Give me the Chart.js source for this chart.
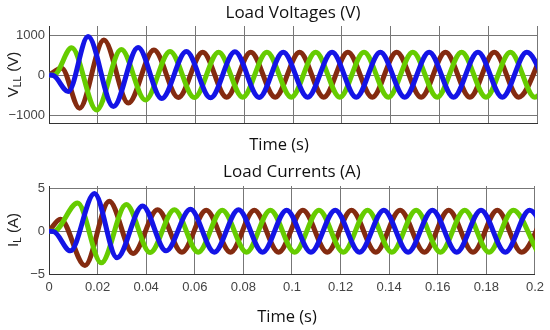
<!DOCTYPE html>
<html>
<head>
<meta charset="utf-8">
<script src="https://cdn.jsdelivr.net/npm/chart.js@4.4.1/dist/chart.umd.min.js"></script>
<style>
  body { margin: 0; background: #fff; }
  #wrap { position: relative; width: 550px; height: 330px; }
  .box { position: absolute; left: 0; width: 550px; }
</style>
</head>
<body>
<div id="wrap">
  <div class="box" style="top:0;height:160px"><canvas id="vChart"></canvas></div>
  <div class="box" style="top:160px;height:170px"><canvas id="iChart"></canvas></div>
</div>
<script>
// tick labels
const xTicks = [0, 0.02, 0.04, 0.06, 0.08, 0.1, 0.12, 0.14, 0.16, 0.18, 0.2];
const vTicks = [-1000, 0, 1000];
const iTicks = [-5, 0, 5];

// load voltages: peaks / troughs (time s, value V)
const vRedT = [0, 0.0052, 0.0125, 0.0225, 0.0325, 0.0430, 0.0530, 0.0630, 0.0728, 0.0827, 0.0927, 0.1027, 0.1126, 0.1225, 0.1325, 0.1425, 0.1525, 0.1625, 0.1725, 0.1825, 0.1925, 0.2025];
const vRedV = [0, 170, -830, 875, -700, 625, -560, 570, -555, 570, -555, 570, -555, 570, -555, 570, -555, 570, -555, 570, -555, 570];
const vGreenT = [0, 0.002, 0.0093, 0.0195, 0.0296, 0.0395, 0.0496, 0.0596, 0.0695, 0.0794, 0.0893, 0.0993, 0.1093, 0.1192, 0.1291, 0.1391, 0.1491, 0.1591, 0.1691, 0.1791, 0.1891, 0.1991, 0.2091];
const vGreenV = [0, 0, 680, -875, 640, -625, 590, -565, 570, -555, 570, -555, 570, -555, 570, -555, 570, -555, 570, -555, 570, -555, 570];
const vBlueT = [0, 0.002, 0.0079, 0.0160, 0.0264, 0.0365, 0.0462, 0.0563, 0.0662, 0.0762, 0.0861, 0.0960, 0.1060, 0.1160, 0.1259, 0.1358, 0.1458, 0.1558, 0.1658, 0.1758, 0.1858, 0.1958, 0.2058];
const vBlueV = [0, -20, -415, 960, -790, 690, -585, 585, -570, 580, -560, 570, -555, 570, -555, 570, -555, 570, -555, 570, -555, 570, -555];

// load currents: peaks / troughs (time s, value A)
const iRedT = [0, 0.0047, 0.0148, 0.0248, 0.0346, 0.0447, 0.0547, 0.0647, 0.0747, 0.0845, 0.0945, 0.1045, 0.1145, 0.1245, 0.1345, 0.1445, 0.1545, 0.1645, 0.1745, 0.1845, 0.1945, 0.2045];
const iRedV = [0, 1.4, -4.0, 3.5, -2.6, 2.5, -2.45, 2.45, -2.45, 2.45, -2.45, 2.45, -2.45, 2.45, -2.45, 2.45, -2.45, 2.45, -2.45, 2.45, -2.45, 2.45];
const iGreenT = [0, 0.002, 0.0118, 0.0215, 0.0318, 0.0416, 0.0516, 0.0614, 0.0713, 0.0813, 0.0911, 0.1011, 0.1111, 0.1211, 0.1311, 0.1411, 0.1511, 0.1611, 0.1711, 0.1811, 0.1911, 0.2011];
const iGreenV = [0, 0, 3.3, -3.7, 3.1, -2.5, 2.5, -2.45, 2.45, -2.45, 2.45, -2.45, 2.45, -2.45, 2.45, -2.45, 2.45, -2.45, 2.45, -2.45, 2.45, -2.45];
const iBlueT = [0, 0.002, 0.0088, 0.0187, 0.0280, 0.0385, 0.0482, 0.0582, 0.0680, 0.0780, 0.0879, 0.0978, 0.1078, 0.1178, 0.1278, 0.1378, 0.1478, 0.1578, 0.1678, 0.1778, 0.1878, 0.1978, 0.2078];
const iBlueV = [0, -0.05, -2.3, 4.4, -3.1, 2.95, -2.3, 2.55, -2.45, 2.5, -2.45, 2.45, -2.45, 2.45, -2.45, 2.45, -2.45, 2.45, -2.45, 2.45, -2.45, 2.45, -2.45];

const RED = '#842b10';
const GREEN = '#66cc00';
const BLUE = '#1414e6';

function pts(ts, vs) {
  return ts.map((t, i) => ({ x: t, y: vs[i] }));
}

function serie(ts, vs, color, order) {
  return {
    data: pts(ts, vs),
    borderColor: color,
    borderWidth: 5,
    pointRadius: 0,
    cubicInterpolationMode: 'monotone',
    clip: 0,
    order: order
  };
}

// titles, x-axis title and y-axis label (with subscript)
const labels = {
  id: 'labels',
  afterDraw(chart, args, o) {
    const ctx = chart.ctx, a = chart.chartArea;
    const cx = (a.left + a.right) / 2;
    ctx.save();
    ctx.fillStyle = '#111';
    ctx.textAlign = 'center';
    ctx.textBaseline = 'middle';
    ctx.font = '17px "Open Sans"';
    ctx.fillText(o.title, cx, o.titleY);
    ctx.font = '16.5px "Open Sans"';
    ctx.fillText('Time (s)', cx + o.timeDx, o.timeY);

    // rotated y label
    ctx.translate(o.yx, (a.top + a.bottom) / 2);
    ctx.rotate(-Math.PI / 2);
    ctx.textAlign = 'left';
    ctx.textBaseline = 'alphabetic';
    ctx.fillStyle = '#222';
    const big = '15px "Liberation Sans"', small = '10px "Liberation Sans"';
    ctx.font = big;
    const w1 = ctx.measureText(o.main).width;
    const w3 = ctx.measureText(o.unit).width;
    ctx.font = small;
    const w2 = ctx.measureText(o.sub).width;
    let x = -(w1 + w2 + w3) / 2;
    ctx.font = big; ctx.fillText(o.main, x, 0); x += w1;
    ctx.font = small; ctx.fillText(o.sub, x, 3); x += w2;
    ctx.font = big; ctx.fillText(o.unit, x, 0);
    ctx.restore();
  }
};

function makeChart(id, sets, yMin, yMax, yTicks, o) {
  return new Chart(document.getElementById(id), {
    type: 'line',
    data: { datasets: sets },
    plugins: [labels],
    options: {
      responsive: true,
      maintainAspectRatio: false,
      animation: false,
      layout: { padding: { left: 0, right: 13, top: 26, bottom: 0 } },
      plugins: {
        legend: { display: false },
        tooltip: { enabled: false },
        title: { display: false },
        labels: o.lab
      },
      scales: {
        x: {
          type: 'linear',
          min: 0,
          max: 0.2,
          afterFit: s => { s.height = o.xH; },
          afterBuildTicks: s => { s.ticks = xTicks.map(v => ({ value: v })); },
          grid: { color: '#777', drawTicks: false },
          border: { color: '#333' },
          ticks: {
            display: o.xLabels,
            padding: 6,
            color: '#444',
            maxRotation: 0,
            font: { family: 'Liberation Sans', size: 13 },
            callback: v => String(v)
          }
        },
        y: {
          min: yMin,
          max: yMax,
          afterFit: s => { s.width = 49; },
          afterBuildTicks: s => { s.ticks = yTicks.map(v => ({ value: v })); },
          grid: { color: '#777', drawTicks: false },
          border: { color: '#333' },
          ticks: {
            padding: 4,
            color: '#444',
            font: { family: 'Liberation Sans', size: 13 },
            callback: v => (v < 0 ? '\u2212' + Math.abs(v) : String(v))
          }
        }
      }
    }
  });
}

makeChart('vChart', [
  serie(vBlueT, vBlueV, BLUE, 0),
  serie(vGreenT, vGreenV, GREEN, 1),
  serie(vRedT, vRedV, RED, 2)
], -1200, 1225, vTicks, {
  xH: 37,
  xLabels: false,
  lab: { title: 'Load Voltages (V)', titleY: 13, timeDx: -14, timeY: 145, yx: 18, main: 'V', sub: 'LL', unit: ' (V)' }
});

makeChart('iChart', [
  serie(iBlueT, iBlueV, BLUE, 0),
  serie(iGreenT, iGreenV, GREEN, 1),
  serie(iRedT, iRedV, RED, 2)
], -5, 5.27, iTicks, {
  xH: 56,
  xLabels: true,
  lab: { title: 'Load Currents (A)', titleY: 12, timeDx: -5, timeY: 157, yx: 18, main: 'I', sub: 'L', unit: ' (A)' }
});
</script>
</body>
</html>
